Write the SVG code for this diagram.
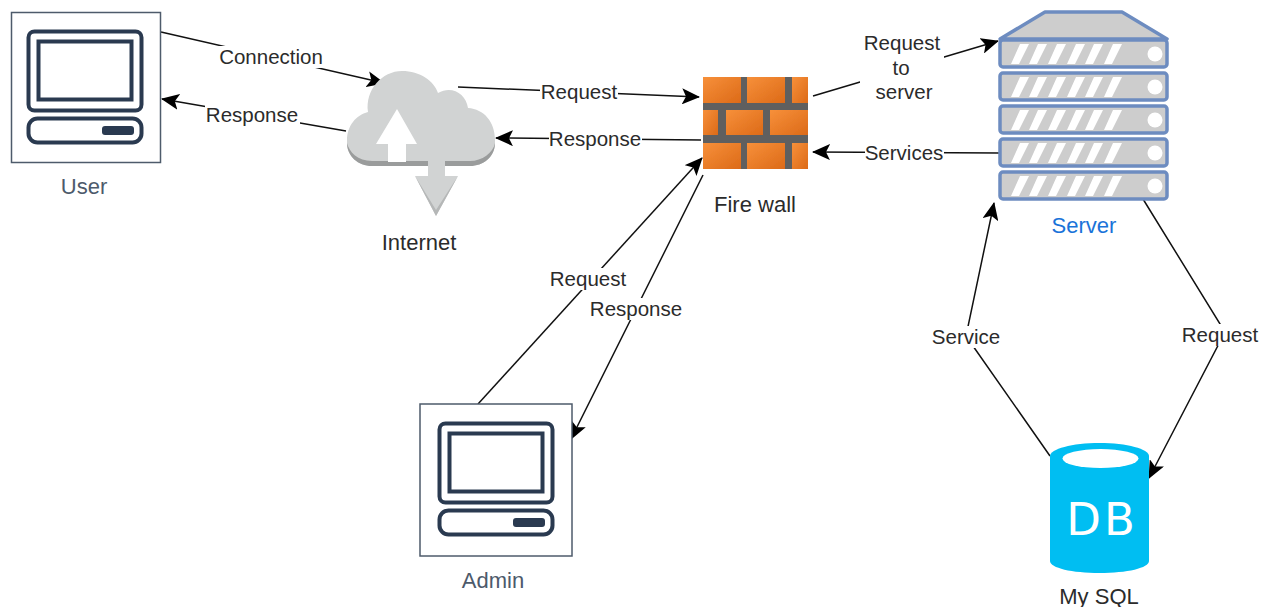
<svg xmlns="http://www.w3.org/2000/svg" width="1270" height="607" viewBox="0 0 1270 607">
<style>
text{font-family:"Liberation Sans",Arial,sans-serif;font-size:20.5px;fill:#2b2b2b;text-anchor:middle}
.n{font-size:22px}
.nl{fill:#4d5a6b}
.c{fill:none;stroke:#111;stroke-width:1.5}
.a{marker-end:url(#ah)}
.lb{fill:#fff}
.sc{fill:#fff;stroke:#2a3a50;stroke-width:4}
.box{fill:#fff;stroke:#4e5b6b;stroke-width:1.5}
.r{fill:#cdcdcd;stroke:#6d8cc0;stroke-width:3.5}
.s{fill:#fff}
.b{fill:url(#br)}
.soft{filter:url(#soft)}
</style>
<defs>
<filter id="soft" x="-5%" y="-5%" width="110%" height="110%"><feGaussianBlur stdDeviation="0.7"/></filter>
<marker id="ah" markerWidth="18" markerHeight="16" refX="17" refY="8" orient="auto" markerUnits="userSpaceOnUse"><path d="M0 0L18 8L0 16L4 8Z" fill="#000"/></marker>
<linearGradient id="br" x1="0" y1="0" x2="1" y2="1"><stop offset="0" stop-color="#f7903a"/><stop offset="1" stop-color="#dc6a18"/></linearGradient>
<g id="pc">
<rect class="sc" x="1.500" y="1.500" width="113" height="79" rx="6"/>
<rect class="sc" x="11.500" y="11.500" width="93" height="58"/>
<rect class="sc" x="1.500" y="88.500" width="113" height="24" rx="9"/>
<rect x="75" y="96" width="32" height="9" rx="3" fill="#2a3a50"/>
</g>
<g id="row">
<rect class="r" width="167" height="27" rx="3"/>
<path class="s" d="M11 24L20 4H29L19 24ZM29 24L38 4H47L37 24ZM48 24L57 4H66L56 24ZM67 24L76 4H85L75 24ZM85 24L94 4H103L93 24ZM104 24L113 4H122L112 24Z"/>
<circle class="s" cx="155" cy="14" r="7.500"/>
</g>
</defs>
<rect width="1270" height="607" fill="#fff"/>

<g id="connectors">
<path class="c a" d="M161 32L384 83"/>
<path class="c a" d="M346 131L162 99"/>
<path class="c a" d="M458 87L699 97"/>
<path class="c a" d="M701 140L496 138"/>
<path class="c a" d="M813 96L998 41"/>
<path class="c a" d="M999 153L813 152"/>
<path class="c a" d="M478 404L702 158"/>
<path class="c a" d="M703 175L571 439"/>
<path class="c a" d="M1050 456L966 336L994 203"/>
<path class="c a" d="M1143 199L1225 332L1149 478"/>
<g id="connector-labels">
<rect class="lb" x="218" y="46" width="107" height="22"/><text x="271" y="64">Connection</text>
<rect class="lb" x="205" y="104" width="95" height="22"/><text x="252" y="122">Response</text>
<rect class="lb" x="540" y="81" width="78" height="22"/><text x="579" y="99">Request</text>
<rect class="lb" x="549" y="128" width="93" height="22"/><text x="595" y="146">Response</text>
<rect class="lb" x="860" y="32" width="84" height="72"/><text x="902" y="50">Request</text><text x="901" y="75">to</text><text x="904" y="99">server</text>
<rect class="lb" x="865" y="143" width="79" height="22"/><text x="904" y="160">Services</text>
<rect class="lb" x="549" y="268" width="78" height="22"/><text x="588" y="286">Request</text>
<rect class="lb" x="590" y="298" width="93" height="22"/><text x="636" y="316">Response</text>
<rect class="lb" x="931" y="326" width="69" height="22"/><text x="966" y="344">Service</text>
<rect class="lb" x="1181" y="324" width="78" height="22"/><text x="1220" y="342">Request</text>
</g>
</g>

<g id="user">
<rect class="box" x="11.500" y="12.500" width="149" height="150"/>
<use href="#pc" x="27" y="30"/>
<text class="n nl" x="84" y="194">User</text>
</g>

<g id="internet">
<g class="soft">
<path d="M347 140C347 126 356 115 368 112C365 90 382 71 402 71C420 71 434 81 438 93C452 85 466 94 468 108C484 109 495 122 495 140L495 143C495 157 483 166 470 166L445 166L445 176L458 176L436 216L415 176L428 176L428 166L372 166C358 166 347 156 347 143Z" fill="#d1d3d3"/>
<path d="M347 143C349 152 358 161 372 161L470 161C482 161 493 153 495 143C495 157 483 166 470 166L372 166C358 166 347 156 347 143Z" fill="#9a9c9c"/>
<path d="M428 161H445V166H428Z" fill="#d1d3d3"/>
<path d="M397 109L417 144H406V162H388V144H376Z" fill="#fff"/>
<path d="M415 176L436 216L458 176L436 210Z" fill="#b5b7b7"/>
</g>
<text class="n" x="419" y="250">Internet</text>
</g>

<g id="firewall">
<g class="soft">
<rect x="703" y="77" width="105" height="92" fill="#5f5f5f"/>
<rect class="b" x="703" y="77" width="38" height="26"/>
<rect class="b" x="747" y="77" width="38" height="26"/>
<rect class="b" x="792" y="77" width="16" height="26"/>
<rect class="b" x="703" y="110" width="15" height="25"/>
<rect class="b" x="726" y="110" width="37" height="25"/>
<rect class="b" x="770" y="110" width="38" height="25"/>
<rect class="b" x="703" y="143" width="38" height="26"/>
<rect class="b" x="747" y="143" width="38" height="26"/>
<rect class="b" x="792" y="143" width="16" height="26"/>
</g>
<text class="n" x="755" y="212">Fire wall</text>
</g>

<g id="server">
<g class="soft">
<path d="M1045 12H1122L1167 39H1000Z" fill="#cdcdcd" stroke="#6d8cc0" stroke-width="3.500" stroke-linejoin="round"/>
<use href="#row" x="1000" y="40"/>
<use href="#row" x="1000" y="73"/>
<use href="#row" x="1000" y="106"/>
<use href="#row" x="1000" y="139"/>
<use href="#row" x="1000" y="172"/>
</g>
<text class="n" x="1084" y="233" style="fill:#1a73d9">Server</text>
</g>

<g id="mysql">
<path d="M1050 456C1050 449 1072 443 1099.500 443C1127 443 1149 449 1149 456V561C1149 568 1127 573 1099.500 573C1072 573 1050 568 1050 561Z" fill="#00bef2"/>
<ellipse cx="1100.500" cy="458.500" rx="38" ry="9.500" fill="#fff"/>
<text x="1102" y="535" style="font-family:'DejaVu Sans',sans-serif;font-size:45px;letter-spacing:3px;fill:#fff">DB</text>
<text class="n" x="1099" y="604">My SQL</text>
</g>

<g id="admin">
<rect class="box" x="420" y="404" width="152" height="152"/>
<use href="#pc" x="438" y="422"/>
<text class="n nl" x="493" y="588">Admin</text>
</g>
</svg>
